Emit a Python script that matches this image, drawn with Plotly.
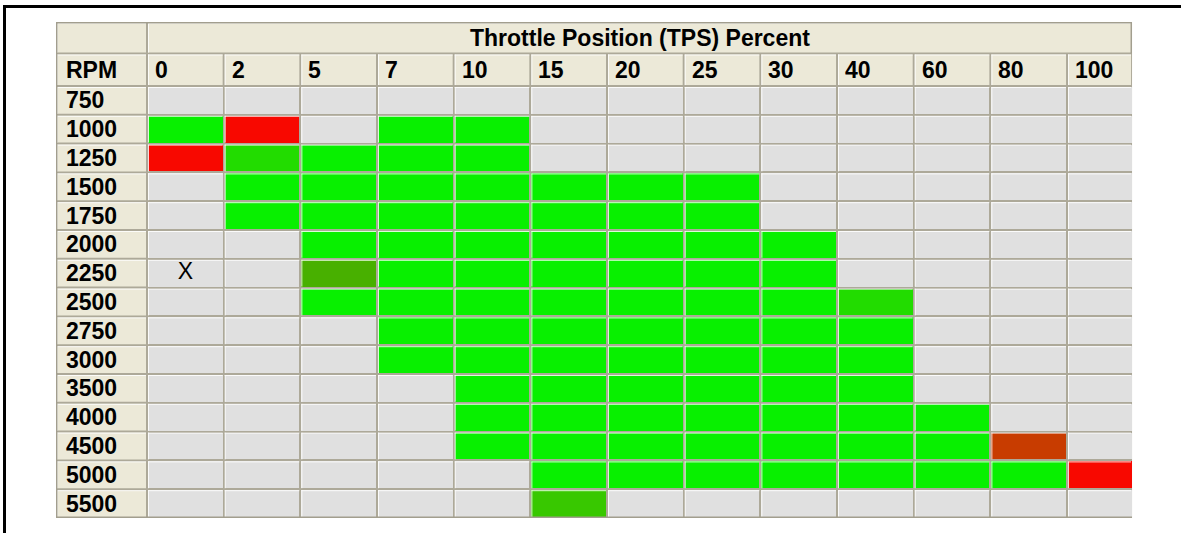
import plotly.graph_objects as go

# Column headers: throttle position (percent)
tps = ["0", "2", "5", "7", "10", "15", "20", "25", "30", "40", "60", "80", "100"]
# Row headers: engine speed
rpm = ["750", "1000", "1250", "1500", "1750", "2000", "2250", "2500",
       "2750", "3000", "3500", "4000", "4500", "5000", "5500"]

# Cell state codes and the colour used for each
status_colors = ["#E0E0E0",  # 0 not visited
                 "#08F000",  # 1 learned
                 "#F80800",  # 2 out of range
                 "#22DC00",  # 3 learned, small correction
                 "#48B000",  # 4 learned, larger correction
                 "#38C800",  # 5 learned, medium correction
                 "#C83C00"]  # 6 near limit

cells = [
    [0, 0, 0, 0, 0, 0, 0, 0, 0, 0, 0, 0, 0],  # 750
    [1, 2, 0, 1, 1, 0, 0, 0, 0, 0, 0, 0, 0],  # 1000
    [2, 3, 1, 1, 1, 0, 0, 0, 0, 0, 0, 0, 0],  # 1250
    [0, 1, 1, 1, 1, 1, 1, 1, 0, 0, 0, 0, 0],  # 1500
    [0, 1, 1, 1, 1, 1, 1, 1, 0, 0, 0, 0, 0],  # 1750
    [0, 0, 1, 1, 1, 1, 1, 1, 1, 0, 0, 0, 0],  # 2000
    [0, 0, 4, 1, 1, 1, 1, 1, 1, 0, 0, 0, 0],  # 2250
    [0, 0, 1, 1, 1, 1, 1, 1, 1, 3, 0, 0, 0],  # 2500
    [0, 0, 0, 1, 1, 1, 1, 1, 1, 1, 0, 0, 0],  # 2750
    [0, 0, 0, 1, 1, 1, 1, 1, 1, 1, 0, 0, 0],  # 3000
    [0, 0, 0, 0, 1, 1, 1, 1, 1, 1, 0, 0, 0],  # 3500
    [0, 0, 0, 0, 1, 1, 1, 1, 1, 1, 1, 0, 0],  # 4000
    [0, 0, 0, 0, 1, 1, 1, 1, 1, 1, 1, 6, 0],  # 4500
    [0, 0, 0, 0, 0, 1, 1, 1, 1, 1, 1, 1, 2],  # 5000
    [0, 0, 0, 0, 0, 5, 0, 0, 0, 0, 0, 0, 0],  # 5500
]

# Cells carrying the current-position marker (rpm, tps)
marked = [("2250", "0")]

title_text = "Throttle Position (TPS) Percent"
corner_text = "RPM"

# ---- page geometry (pixels) ----
W, H = 1181, 533
TABLE_L, TABLE_T = 56, 22
LABEL_W = 91          # width of the RPM label column
COL_W = 76.67         # width of a TPS column
LAST_W = 65           # visible width of the clipped last column
ROW_H = 28.8          # height of an RPM row
HEAD1_H = 31.5        # merged title row
HEAD2_H = 32.5        # column-header row

GRID = "#ADA999"
EDGE = "#A29E8E"
BEIGE = "#ECE9D8"
FONT = "Liberation Sans"


def ux(px):
    return px / COL_W


def uy(px):
    return px / ROW_H


n_cols, n_rows = len(tps), len(rpm)
xl = -0.5 - ux(LABEL_W)
xr = n_cols - 1.5 + ux(LAST_W)
yt = -0.5 - uy(HEAD1_H + HEAD2_H)
ym = yt + uy(HEAD1_H)
table_r = TABLE_L + LABEL_W + (n_cols - 1) * COL_W + LAST_W
table_b = TABLE_T + HEAD1_H + HEAD2_H + n_rows * ROW_H

fig = go.Figure()

# the cell grid itself
nc = len(status_colors)
colorscale = []
for k, c in enumerate(status_colors):
    colorscale.append([k / nc, c])
    colorscale.append([(k + 1) / nc, c])
fig.add_trace(go.Heatmap(
    x=list(range(n_cols)), y=list(range(n_rows)), z=cells,
    zmin=-0.5, zmax=nc - 0.5, colorscale=colorscale, showscale=False,
    xgap=2, ygap=2, hoverinfo="skip",
))

# header / label cells (beige)
shapes = []
hl_x, hl_y = [], []


def cell_rect(x0, x1, y0, y1, fill):
    shapes.append(dict(type="rect", xref="x", yref="y", layer="below",
                       x0=x0 + ux(1), x1=x1 - ux(1), y0=y0 + uy(1), y1=y1 - uy(1),
                       fillcolor=fill, line=dict(width=0)))


def highlight(x0, x1, y0, y1):
    # raised-edge white lines along the top and left of a cell
    hl_x.extend([x0 + ux(1), x1 - ux(1), None, x0 + ux(1.5), x0 + ux(1.5), None])
    hl_y.extend([y0 + uy(1.5), y0 + uy(1.5), None, y0 + uy(1), y1 - uy(1), None])


cell_rect(xl, -0.5, yt, ym, BEIGE)
highlight(xl, -0.5, yt, ym)
cell_rect(-0.5, xr, yt, ym, BEIGE)
highlight(-0.5, xr, yt, ym)
cell_rect(xl, -0.5, ym, -0.5, BEIGE)
highlight(xl, -0.5, ym, -0.5)
for j in range(n_cols):
    cell_rect(j - 0.5, min(j + 0.5, xr), ym, -0.5, BEIGE)
    highlight(j - 0.5, min(j + 0.5, xr), ym, -0.5)
for i in range(n_rows):
    cell_rect(xl, -0.5, i - 0.5, i + 0.5, BEIGE)
    highlight(xl, -0.5, i - 0.5, i + 0.5)
    for j in range(n_cols):
        highlight(j - 0.5, min(j + 0.5, xr), i - 0.5, i + 0.5)

fig.add_trace(go.Scatter(x=hl_x, y=hl_y, mode="lines",
                         line=dict(color="rgba(255,255,255,0.85)", width=1),
                         hoverinfo="skip", showlegend=False))

# marker in flagged cells
fig.add_trace(go.Scatter(
    x=[tps.index(t) for r, t in marked], y=[rpm.index(r) for r, t in marked],
    mode="text", text=["X"] * len(marked),
    textfont=dict(family=FONT, size=23, color="#000000"),
    hoverinfo="skip", showlegend=False))

# outer edge of the table: top, left, bottom, and right of the title cell
for x0, x1, y0, y1 in [
    (xl + ux(0.5), xr, yt + uy(0.5), yt + uy(0.5)),
    (xl + ux(0.5), xl + ux(0.5), yt, n_rows - 0.5),
    (xl, xr, n_rows - 0.5 - uy(0.5), n_rows - 0.5 - uy(0.5)),
    (xr - ux(0.5), xr - ux(0.5), yt, ym),
]:
    shapes.append(dict(type="line", xref="x", yref="y", layer="above",
                       x0=x0, x1=x1, y0=y0, y1=y1,
                       line=dict(color=EDGE, width=2)))

# black page border on top and left
shapes.append(dict(type="line", xref="paper", yref="paper",
                   x0=3 / W, x1=1, y0=1 - 6.5 / H, y1=1 - 6.5 / H,
                   line=dict(color="#000000", width=3)))
shapes.append(dict(type="line", xref="paper", yref="paper",
                   x0=4.5 / W, x1=4.5 / W, y0=0, y1=1 - 5 / H,
                   line=dict(color="#000000", width=3)))

# text
bold = dict(family=FONT, size=23, color="#000000", weight="bold")
ann = []
ann.append(dict(x=(-0.5 + xr) / 2, y=(yt + ym) / 2, text=title_text,
                xanchor="center", yanchor="middle"))
ann.append(dict(x=xl + ux(9), y=(ym - 0.5) / 2, text=corner_text,
                xanchor="left", yanchor="middle"))
for j, t in enumerate(tps):
    ann.append(dict(x=j - 0.5 + ux(7), y=(ym - 0.5) / 2, text=t,
                    xanchor="left", yanchor="middle"))
for i, r in enumerate(rpm):
    ann.append(dict(x=xl + ux(9), y=i, text=r, xanchor="left", yanchor="middle"))
for a in ann:
    a.update(xref="x", yref="y", showarrow=False, font=bold, borderpad=0)

fig.update_layout(
    width=W, height=H, autosize=False,
    margin=dict(l=0, r=0, t=0, b=0, pad=0),
    paper_bgcolor="#FFFFFF", plot_bgcolor=GRID,
    showlegend=False,
    shapes=shapes, annotations=ann,
    xaxis=dict(domain=[TABLE_L / W, table_r / W], range=[xl, xr],
               visible=False, showgrid=False, zeroline=False, fixedrange=True),
    yaxis=dict(domain=[1 - table_b / H, 1 - TABLE_T / H], range=[n_rows - 0.5, yt],
               visible=False, showgrid=False, zeroline=False, fixedrange=True),
)

fig.write_html("out.html", config={"displayModeBar": False})
